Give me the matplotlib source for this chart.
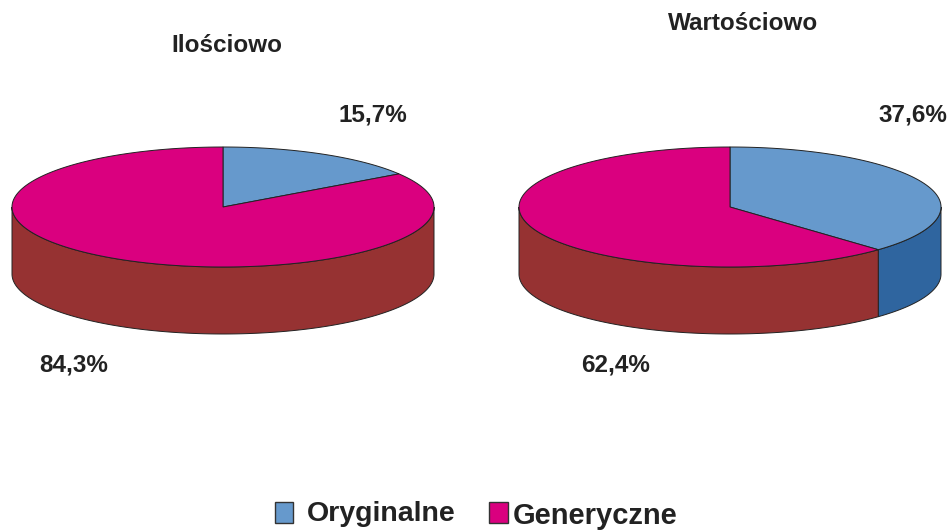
import numpy as np
from matplotlib import pyplot as plt
from matplotlib.patches import Polygon, Rectangle

titles = ['Ilościowo', 'Wartościowo']
oryginalne = [15.7, 37.6]
generyczne = [84.3, 62.4]
labels_o = ['15,7%', '37,6%']
labels_g = ['84,3%', '62,4%']
legend_names = ['Oryginalne', 'Generyczne']

top_colors = ['#6699cc', '#da007f']
side_colors = ['#2f659f', '#963232']
centers = [223, 730]
rx, ry, depth = 211, 60, 67


def pie3d(ax, cx, cy, values):
    # angles clockwise from 12 o'clock, in ellipse parameter space
    start = 0.0
    for val, top, side in zip(values, top_colors, side_colors):
        end = start + val / 100 * 360
        t = np.radians(np.arange(start, end, 0.5).tolist() + [end])
        x = cx + rx * np.sin(t)
        y = cy - ry * np.cos(t)

        # side wall, only the front half of the ellipse shows it
        lo, hi = max(start, 90), min(end, 270)
        if hi > lo:
            s = np.radians(np.arange(lo, hi, 0.5).tolist() + [hi])
            sx = cx + rx * np.sin(s)
            sy = cy - ry * np.cos(s)
            pts = np.r_[np.c_[sx, sy], np.c_[sx, sy + depth][::-1]]
            ax.add_patch(Polygon(pts, fc=side, ec='#222222', lw=0.7, zorder=2))

        pts = np.r_[[[cx, cy]], np.c_[x, y]]
        ax.add_patch(Polygon(pts, fc=top, ec='#222222', lw=0.7, zorder=3))
        start = end


fig = plt.figure(figsize=(9.49, 5.32), dpi=100)
ax = fig.add_axes([0, 0, 1, 1])
ax.set_xlim(0, 949)
ax.set_ylim(532, 0)
ax.axis('off')
plt.rcParams['font.family'] = ['Liberation Sans', 'DejaVu Sans']

for i in range(2):
    pie3d(ax, centers[i], 207, [oryginalne[i], generyczne[i]])

txt = dict(fontweight='bold', color='#222222', va='center', ha='center', fontsize=17.5)
ax.text(227, 46, titles[0], **txt)
ax.text(743.5, 24, titles[1], **txt)
ax.text(373, 115, labels_o[0], **txt)
ax.text(913, 115, labels_o[1], **txt)
ax.text(74, 365, labels_g[0], **txt)
ax.text(616, 365, labels_g[1], **txt)

# legend
ax.add_patch(Rectangle((275, 502), 18, 21, fc=top_colors[0], ec='#333333', lw=1))
ax.add_patch(Rectangle((489, 502), 19, 21, fc=top_colors[1], ec='#333333', lw=1))
ax.text(307, 514, legend_names[0], fontsize=20.5, fontweight='bold', color='#222222', va='center')
ax.text(513, 516, legend_names[1], fontsize=21, fontweight='bold', color='#222222', va='center')

fig.savefig('out.png', dpi=100)
